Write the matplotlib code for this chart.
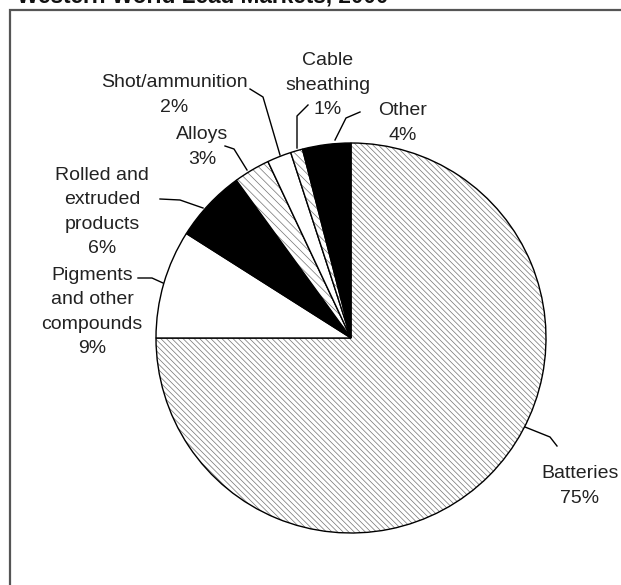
import matplotlib.pyplot as plt
from matplotlib.patches import Rectangle

plt.rcParams['font.family'] = ['Liberation Sans', 'DejaVu Sans']
plt.rcParams['hatch.linewidth'] = 0.5

W, H = 621, 585

# lead end uses, clockwise from 12 o'clock
markets = ["Batteries", "Pigments\nand other\ncompounds", "Rolled and\nextruded\nproducts",
           "Alloys", "Shot/ammunition", "Cable\nsheathing", "Other"]
shares = [75, 9, 6, 3, 2, 1, 4]
fills = ["white", "white", "black", "white", "white", "white", "black"]
hatches = ["\\" * 6, "", "", "\\" * 4, "", "\\" * 4, ""]

# label centres and leader lines, in pixels from the top left corner
label_xy = [(580, 486), (92, 312), (102, 212), (202, 147), (174, 95), (328, 85), (403, 123)]
leaders = [
    [(557, 446), (550, 437), (525, 427)],
    [(138, 278), (152, 278), (163, 283)],
    [(160, 199), (180, 200), (203, 208)],
    [(225, 146), (234, 149), (247, 170)],
    [(250, 89), (263, 97), (280, 155)],
    [(308, 105), (297, 116), (297, 148)],
    [(360, 112), (346, 118), (335, 140)],
]

fig = plt.figure(figsize=(W / 100, H / 100), dpi=100)
ax = fig.add_axes([0, 0, 1, 1])

wedges, _ = ax.pie(shares, startangle=90, counterclock=False,
                   center=(351, H - 338), radius=195,
                   colors=fills, frame=True,
                   wedgeprops=dict(edgecolor="black", linewidth=1.0))
for w, h in zip(wedges, hatches):
    if h:
        w.set_hatch(h)
        w._hatch_color = (0.45, 0.45, 0.45, 1.0)
ax.set_xlim(0, W)
ax.set_ylim(0, H)
ax.axis("off")

for name, share, (x, y), pts in zip(markets, shares, label_xy, leaders):
    ax.text(x, H - y, f"{name}\n{share}%", ha="center", va="center",
            fontsize=14, linespacing=1.55, color="#222222")
    ax.plot([p[0] for p in pts], [H - p[1] for p in pts], color="black", lw=1.0)

# frame around the chart, running off the right and bottom edges
ax.add_patch(Rectangle((9.5, -20), 700, H - 9.5 + 20, fill=False,
                       edgecolor="#555555", lw=1.6, clip_on=False))

fig.text(17 / W, 1 - 3 / H, "Western World Lead Markets, 2000",
         fontsize=16.3, fontweight="bold", ha="left", va="baseline", color="#111111")

fig.savefig("out.png", dpi=100)
